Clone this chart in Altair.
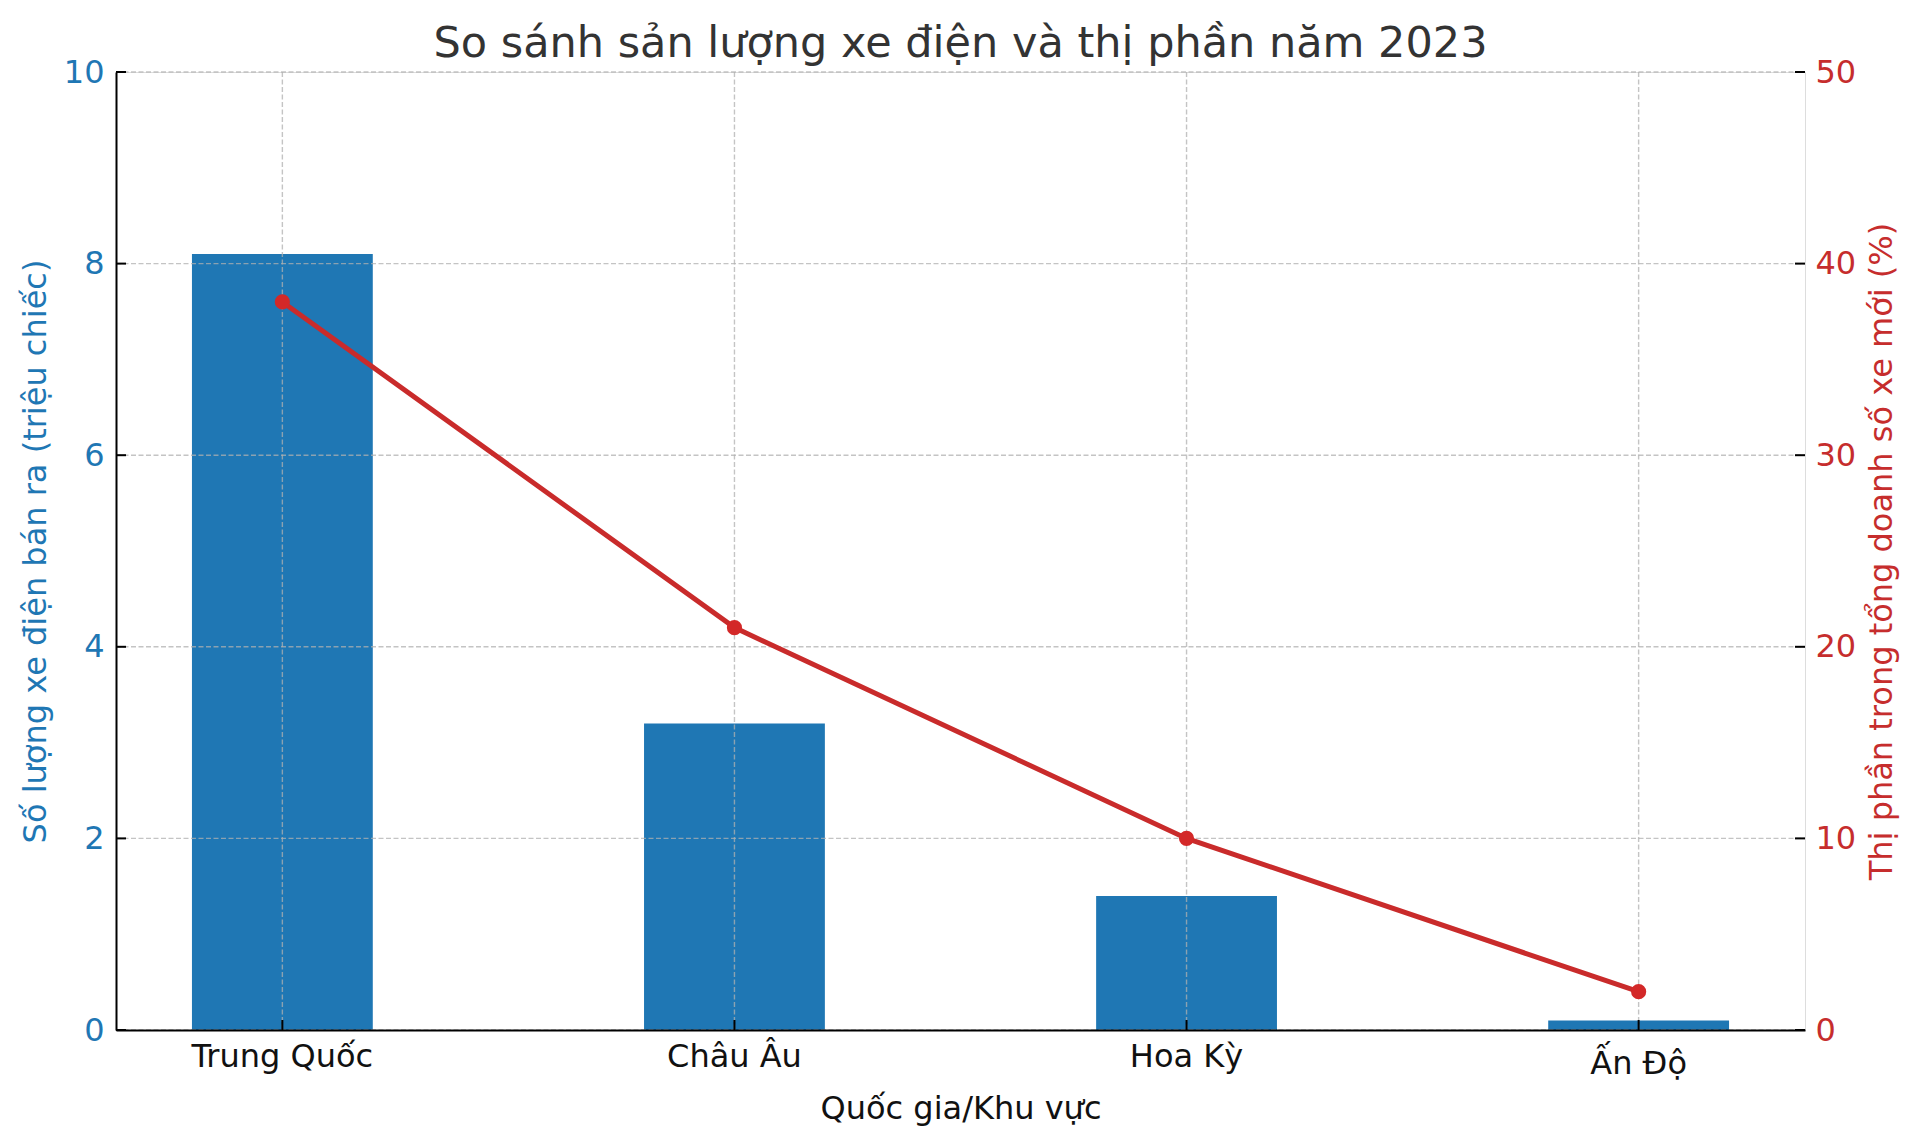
import altair as alt
import pandas as pd

title_text = "So sánh sản lượng xe điện và thị phần năm 2023"
categories = ["Trung Quốc", "Châu Âu", "Hoa Kỳ", "Ấn Độ"]
sales = [8.1, 3.2, 1.4, 0.1]          # triệu chiếc
share = [38, 21, 10, 2]               # %
left_ticks = [0, 2, 4, 6, 8, 10]
right_ticks = [0, 10, 20, 30, 40, 50]

W, H = 1689, 958
FONT = "DejaVu Sans"
BLUE = "#1f77b4"
RED_LINE = "#c92b2b"
RED_PT = "#d32828"
RED_TXT = "#c62d2d"

df = pd.DataFrame({"cat": categories, "sales": sales, "share": share})
df_lt = pd.DataFrame({"v": left_ticks})
df_rt = pd.DataFrame({"v": right_ticks})
df_cat = pd.DataFrame({"cat": categories})
df_title = pd.DataFrame({"t": [title_text]})

x_scale = alt.Scale(domain=categories, paddingInner=0.6, paddingOuter=0.168)
x_axis = alt.Axis(
    title="Quốc gia/Khu vực", labelAngle=0, labelFontSize=32, labelColor="#111111",
    labelFont=FONT, labelBaseline="alphabetic", labelLimit=500,
    labelPadding={"condition": {"test": "datum.label == 'Ấn Độ'", "value": 43}, "value": 36},
    ticks=False, tickSize=0, grid=False, domainColor="#000000", domainWidth=2,
    titleFont=FONT, titleFontSize=32, titleFontWeight="normal", titleColor="#111111",
    titleX=W / 2, titleY=88, titleBaseline="alphabetic", titleAlign="center",
    labelOverlap=False, labelBound=False, labelFlush=False, bandPosition=0.5, zindex=1,
)
X = alt.X("cat:N", sort=categories, scale=x_scale, axis=x_axis)

yl_scale = alt.Scale(domain=[0, 10], nice=False, zero=True)
yl_axis = alt.Axis(
    orient="left", title="Số lượng xe điện bán ra (triệu chiếc)", values=left_ticks,
    labelFontSize=32, labelFont=FONT, labelColor=BLUE, labelPadding=12, labelFlush=False,
    ticks=False, tickSize=0, grid=False, domainColor="#000000", domainWidth=2,
    titleFont=FONT, titleFontSize=32, titleFontWeight="normal", titleColor=BLUE,
    titleAngle=270, titleX=-71, titleY=H / 2, titleBaseline="alphabetic", titleAlign="center",
    zindex=1,
)
yr_scale = alt.Scale(domain=[0, 50], nice=False, zero=True)
yr_axis = alt.Axis(
    orient="right", title="Thị phần trong tổng doanh số xe mới (%)", values=right_ticks,
    labelFontSize=32, labelFont=FONT, labelColor=RED_TXT, labelPadding=10, labelFlush=False,
    ticks=False, tickSize=0, grid=False, domain=False,
    titleFont=FONT, titleFontSize=32, titleFontWeight="normal", titleColor=RED_TXT,
    titleAngle=270, titleX=86, titleY=H / 2, titleBaseline="alphabetic", titleAlign="center",
    zindex=1,
)

grid_style = dict(color="#b0b0b0", opacity=0.75, strokeDash=[5, 2.5], strokeWidth=1.4)

bars = alt.Chart(df).mark_bar(color=BLUE).encode(
    x=X, y=alt.Y("sales:Q", scale=yl_scale, axis=yl_axis)
)
hgrid = alt.Chart(df_lt).mark_rule(**grid_style).encode(
    y=alt.Y("v:Q", scale=yl_scale, axis=yl_axis), x=alt.value(0), x2=alt.value(W)
)
vgrid = alt.Chart(df_cat).mark_rule(**grid_style).encode(
    x=X, y=alt.value(0), y2=alt.value(H)
)
lticks = alt.Chart(df_lt).mark_rule(color="#000000", strokeWidth=2).encode(
    y=alt.Y("v:Q", scale=yl_scale, axis=yl_axis), x=alt.value(0), x2=alt.value(10)
)
bticks = alt.Chart(df_cat).mark_rule(color="#000000", strokeWidth=2).encode(
    x=X, y=alt.value(H - 10), y2=alt.value(H)
)
title_mark = alt.Chart(df_title).mark_text(
    font=FONT, fontSize=43, color="#333333", align="center", baseline="alphabetic"
).encode(text="t:N", x=alt.value(W / 2), y=alt.value(-15))

left_layer = alt.layer(bars, hgrid, vgrid, lticks, bticks, title_mark)

line = alt.Chart(df).mark_line(color=RED_LINE, strokeWidth=5).encode(
    x=X, y=alt.Y("share:Q", scale=yr_scale, axis=yr_axis)
)
points = alt.Chart(df).mark_circle(color=RED_PT, size=230, opacity=1).encode(
    x=X, y=alt.Y("share:Q", scale=yr_scale, axis=yr_axis)
)
rticks = alt.Chart(df_rt).mark_rule(color="#000000", strokeWidth=2).encode(
    y=alt.Y("v:Q", scale=yr_scale, axis=yr_axis), x=alt.value(W - 10), x2=alt.value(W)
)
right_layer = alt.layer(line, points, rticks)

chart = (
    alt.layer(left_layer, right_layer)
    .resolve_scale(y="independent")
    .resolve_axis(y="independent")
    .properties(
        width=W, height=H,
        autosize=alt.AutoSizeParams(type="none"),
        padding={"left": 108, "top": 64, "right": 100, "bottom": 100},
    )
    .configure_view(stroke=None)
    .configure(font=FONT, background="#ffffff")
)

chart.save("out.html", embed_options={"renderer": "svg", "actions": False})
